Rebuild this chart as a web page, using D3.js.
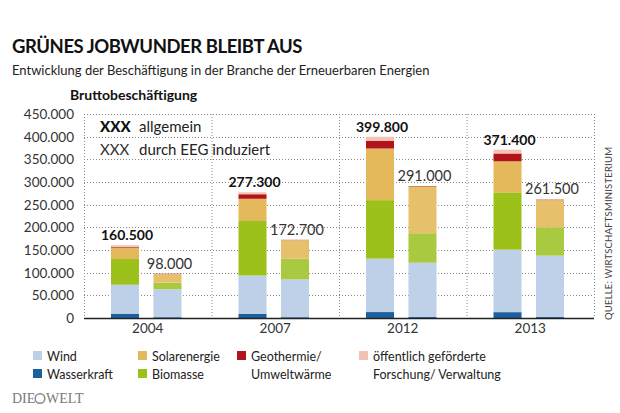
<!DOCTYPE html>
<html lang="de">
<head>
<meta charset="UTF-8">
<script src="https://d3js.org/d3.v7.min.js"></script>
<style>
  body { margin: 0; background: #fff; font-family: Lato, "Open Sans", sans-serif; }
  .grid line { stroke: #8a8a8a; stroke-width: 1; stroke-dasharray: 1,2; }
  .tick-label { font-size: 13.5px; fill: #333; text-anchor: end; }
  .leg { font-size: 12.5px; fill: #222; }
  .key { font-size: 15px; fill: #222; }
</style>
</head>
<body>
<svg id="chart" width="620" height="413"></svg>
<script>
// --- data ---
const years = ["2004", "2007", "2012", "2013"];
const kinds = ["allgemein", "EEG"];
const sectors = ["Wasserkraft", "Wind", "Biomasse", "Solarenergie", "Geothermie", "Forschung"];

// allgemein (gross employment)
const wasserAll  = [9500, 9400, 13100, 12900];
const windAll    = [63900, 84300, 117900, 137800];
const biomasseAll= [56800, 120300, 129000, 126400];
const solarAll   = [25100, 49000, 113900, 68500];
const geoAll     = [1800, 10000, 17200, 17300];
const fuvAll     = [3400, 4300, 8700, 8500];
const totalAll   = [160500, 277300, 399800, 371400];

// durch EEG induziert
const wasserEEG  = [1800, 1800, 2500, 2500];
const windEEG    = [61700, 83500, 119500, 135000];
const biomasseEEG= [14400, 45500, 65000, 62500];
const solarEEG   = [18600, 40500, 102000, 59500];
const geoEEG     = [1500, 1400, 2000, 2000];
const fuvEEG     = [0, 0, 0, 0];
const totalEEG   = [98000, 172700, 291000, 261500];

const yTicks = [0, 50000, 100000, 150000, 200000, 250000, 300000, 350000, 400000, 450000];

const colors = {
  Wasserkraft: "#1b5f9e",
  Wind: "#bdd0e8",
  Biomasse: "#9cc11b",
  Solarenergie: "#e3b95c",
  Geothermie: "#b3141c",
  Forschung: "#f2c3b3"
};
const colorsEEG = {
  Wasserkraft: "#2a6aa6",
  Wind: "#bed1e8",
  Biomasse: "#a9c941",
  Solarenergie: "#e7c06b",
  Geothermie: "#c77a5a",
  Forschung: "#f2c3b3"
};

const rows = [];
years.forEach((yr, i) => {
  rows.push({year: yr, kind: "allgemein", total: totalAll[i],
    Wasserkraft: wasserAll[i], Wind: windAll[i], Biomasse: biomasseAll[i],
    Solarenergie: solarAll[i], Geothermie: geoAll[i], Forschung: fuvAll[i]});
  rows.push({year: yr, kind: "EEG", total: totalEEG[i],
    Wasserkraft: wasserEEG[i], Wind: windEEG[i], Biomasse: biomasseEEG[i],
    Solarenergie: solarEEG[i], Geothermie: geoEEG[i], Forschung: fuvEEG[i]});
});

const de = d3.formatLocale({decimal: ",", thousands: ".", grouping: [3], currency: ["", " €"]});
const fmt = de.format(",d");

const svg = d3.select("#chart");

// titles
svg.append("text").attr("x", 12).attr("y", 53)
  .style("font-size", "18.5px").style("font-weight", 700).style("fill", "#111")
  .style("letter-spacing", "-0.45px")
  .text("GRÜNES JOBWUNDER BLEIBT AUS");
svg.append("text").attr("x", 12).attr("y", 75)
  .style("font-size", "13px").style("fill", "#222")
  .text("Entwicklung der Beschäftigung in der Branche der Erneuerbaren Energien");
svg.append("text").attr("x", 70).attr("y", 100)
  .style("font-size", "14px").style("font-weight", 700).style("fill", "#111")
  .text("Bruttobeschäftigung");

// scales
const x0 = d3.scaleBand().domain(years).range([84, 594]).padding(0);
const x1 = d3.scaleBand().domain(kinds).range([27, 97.5]).paddingInner(0.34).paddingOuter(0);
const y = d3.scaleLinear().domain([0, 450000]).range([318, 114]);

// grid
const grid = svg.append("g").attr("class", "grid");
grid.selectAll(".h").data(yTicks.slice(1)).join("line")
  .attr("x1", 84).attr("x2", 594)
  .attr("y1", d => Math.round(y(d)) + 0.5).attr("y2", d => Math.round(y(d)) + 0.5);
const vlines = years.map(yr => x0(yr)).concat([x0.range()[1]]);
grid.selectAll(".v").data(vlines).join("line")
  .attr("x1", d => d + 0.5).attr("x2", d => d + 0.5)
  .attr("y1", y(450000)).attr("y2", y(0));

// y tick labels
svg.selectAll(".tick-label").data(yTicks).join("text")
  .attr("class", "tick-label")
  .attr("x", 74).attr("y", d => y(d) + 5)
  .text(d => fmt(d));

// stacked bars
const stack = d3.stack().keys(sectors);
const series = stack(rows);
const g = svg.append("g");
series.forEach(s => {
  g.selectAll(null).data(s).join("rect")
    .attr("x", d => x0(d.data.year) + x1(d.data.kind))
    .attr("width", x1.bandwidth())
    .attr("y", d => y(d[1]))
    .attr("height", d => Math.max(0, y(d[0]) - y(d[1])))
    .attr("fill", d => d.data.kind === "EEG" ? colorsEEG[s.key] : colors[s.key]);
});

// value labels
svg.selectAll(".val").data(rows).join("text")
  .attr("x", d => x0(d.year) + x1(d.kind) + x1.bandwidth() / 2 + 2)
  .attr("y", d => y(d.total) - 5)
  .attr("text-anchor", "middle")
  .style("font-size", d => d.kind === "allgemein" ? "14px" : "14.5px")
  .style("font-weight", d => d.kind === "allgemein" ? 700 : 400)
  .style("fill", d => d.kind === "allgemein" ? "#111" : "#333")
  .text(d => fmt(d.total));

// axis
svg.append("line").attr("x1", 84).attr("x2", 594).attr("y1", 318.5).attr("y2", 318.5)
  .attr("stroke", "#222").attr("stroke-width", 1.3);
svg.selectAll(".xl").data(years).join("text")
  .attr("x", d => x0(d) + x0.bandwidth() / 2).attr("y", 333)
  .attr("text-anchor", "middle").style("font-size", "13.5px").style("fill", "#333")
  .text(d => d);

// in-chart key
svg.append("text").attr("x", 100).attr("y", 132).attr("class", "key")
  .style("font-weight", 900).style("fill", "#111").text("XXX");
svg.append("text").attr("x", 139).attr("y", 132).attr("class", "key").text("allgemein");
svg.append("text").attr("x", 100).attr("y", 155).attr("class", "key")
  .style("fill", "#333").text("XXX");
svg.append("text").attr("x", 139).attr("y", 155).attr("class", "key").text("durch EEG induziert");

// legend
const legendItems = [
  {key: "Wind", lines: ["Wind"], x: 33, y: 356},
  {key: "Wasserkraft", lines: ["Wasserkraft"], x: 33, y: 374},
  {key: "Solarenergie", lines: ["Solarenergie"], x: 138, y: 356},
  {key: "Biomasse", lines: ["Biomasse"], x: 138, y: 374},
  {key: "Geothermie", lines: ["Geothermie/", "Umweltwärme"], x: 237, y: 356},
  {key: "Forschung", lines: ["öffentlich geförderte", "Forschung/ Verwaltung"], x: 359, y: 356}
];
const lg = svg.selectAll(".lgi").data(legendItems).join("g");
lg.append("rect").attr("x", d => d.x).attr("y", d => d.y - 5).attr("width", 9).attr("height", 9)
  .attr("fill", d => colors[d.key]);
lg.each(function(d) {
  const t = d3.select(this).append("text").attr("class", "leg");
  d.lines.forEach((l, i) => t.append("tspan").attr("x", d.x + 14).attr("y", d.y + 4.5 + i * 18).text(l));
});

// source
svg.append("text").attr("transform", "translate(612,320) rotate(-90)")
  .style("font-size", "9.5px").style("fill", "#444").style("letter-spacing", "0.2px")
  .text("QUELLE: WIRTSCHAFTSMINISTERIUM");

// logo
const logo = svg.append("g").style("font-family", "'Liberation Serif', serif").style("font-size", "14px").style("fill", "#7a7a7a");
logo.append("text").attr("x", 12).attr("y", 403).text("DIE");
logo.append("circle").attr("cx", 40).attr("cy", 398.5).attr("r", 4.8).attr("fill", "none").attr("stroke", "#8a8a8a").attr("stroke-width", 1.5);
logo.append("text").attr("x", 46).attr("y", 403).text("WELT");
</script>
</body>
</html>
